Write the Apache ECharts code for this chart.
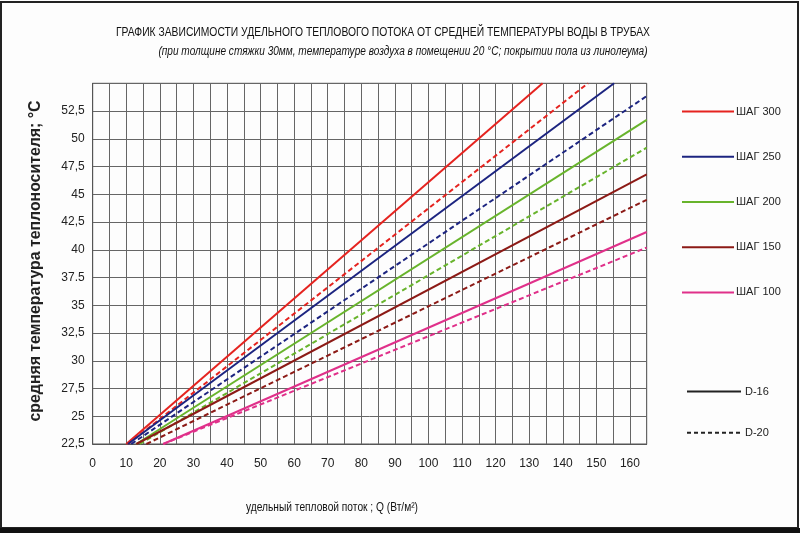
<!DOCTYPE html>
<html>
<head>
<meta charset="utf-8">
<script src="https://cdn.jsdelivr.net/npm/echarts@6/dist/echarts.min.js"></script>
<style>
html,body{margin:0;padding:0;background:#fff;}
#chart{width:800px;height:533px;}
</style>
</head>
<body>
<div id="chart"></div>
<script>
// ---- data ----
const titleText = 'ГРАФИК ЗАВИСИМОСТИ УДЕЛЬНОГО ТЕПЛОВОГО ПОТОКА ОТ СРЕДНЕЙ ТЕМПЕРАТУРЫ ВОДЫ В ТРУБАХ';
const subtitleText = '(при толщине стяжки 30мм, температуре воздуха в помещении 20 °С; покрытии пола из линолеума)';
const xAxisName = 'удельный тепловой поток ; Q (Вт/м²)';
const yAxisName = 'средняя температура теплоносителя; °С';

const xTickLabels = [0,10,20,30,40,50,60,70,80,90,100,110,120,130,140,150,160];
const yTickLabels = {22.5:'22,5',25:'25',27.5:'27,5',30:'30',32.5:'32,5',35:'35',37.5:'37.5',40:'40',42.5:'42,5',45:'45',47.5:'47,5',50:'50',52.5:'52,5'};

const stepNames = ['ШАГ 300','ШАГ 250','ШАГ 200','ШАГ 150','ШАГ 100'];
const pipeNames = ['D-16','D-20'];

// [Q, temperature] end points of each straight line
const step300_d16 = [[10,22.5],[134,55]];
const step300_d20 = [[10.5,22.5],[147.5,55]];
const step250_d16 = [[10.5,22.5],[155.3,55]];
const step250_d20 = [[11.5,22.5],[165,53.85]];
const step200_d16 = [[13,22.5],[165,51.7]];
const step200_d20 = [[14,22.5],[165,49.2]];
const step150_d16 = [[13,22.5],[165,46.8]];
const step150_d20 = [[16,22.5],[165,44.5]];
const step100_d16 = [[21,22.5],[165,41.6]];
const step100_d20 = [[21,22.5],[165,40.2]];

const d16Data = [step300_d16, step250_d16, step200_d16, step150_d16, step100_d16];
const d20Data = [step300_d20, step250_d20, step200_d20, step150_d20, step100_d20];

// ---- styles ----
const colors = ['#e5231f','#1c2480','#68b42c','#8c1a16','#e0308a'];
const FONT = '"Liberation Sans Narrow", "Liberation Sans", sans-serif';
const DASH = [5,3];

const series = [];
stepNames.forEach((name, i) => {
  series.push({
    name: name, type: 'line', data: d16Data[i], symbol: 'none', silent: true,
    lineStyle: {color: colors[i], width: 2, type: 'solid'}, itemStyle: {color: colors[i]},
    clip: true, z: 5
  });
  series.push({
    name: name + ' ', type: 'line', data: d20Data[i], symbol: 'none', silent: true,
    lineStyle: {color: colors[i], width: 2, type: DASH}, itemStyle: {color: colors[i]},
    clip: true, z: 5
  });
});
series.push({name: pipeNames[0], type: 'line', data: [], symbol: 'none',
  lineStyle: {color: '#222', width: 2.5, type: 'solid'}, itemStyle: {color: '#222'}});
series.push({name: pipeNames[1], type: 'line', data: [], symbol: 'none',
  lineStyle: {color: '#222', width: 2.5, type: [4,3]}, itemStyle: {color: '#222'}});

const chart = echarts.init(document.getElementById('chart'), null, {renderer: 'canvas'});
chart.setOption({
  backgroundColor: '#fdfdfd',
  animation: false,
  textStyle: {fontFamily: FONT},
  grid: {left: 92.7, right: 153.3, top: 83.3, bottom: 89, show: true, borderColor: '#555', borderWidth: 1},
  xAxis: {
    type: 'value', min: 0, max: 165, interval: 5,
    axisLine: {show: true, lineStyle: {color: '#555', width: 1}},
    axisTick: {show: false},
    splitLine: {show: true, lineStyle: {color: '#666', width: 1}},
    axisLabel: {
      margin: 14, fontSize: 12, color: '#222', fontFamily: FONT,
      formatter: v => xTickLabels.indexOf(v) >= 0 ? String(v) : ''
    }
  },
  yAxis: {
    type: 'value', min: 22.5, max: 55, interval: 2.5,
    axisLine: {show: true, lineStyle: {color: '#555', width: 1}},
    axisTick: {show: false},
    splitLine: {show: true, lineStyle: {color: '#666', width: 1}},
    axisLabel: {
      margin: 8, fontSize: 12, color: '#222', fontFamily: FONT,
      formatter: v => yTickLabels[v] !== undefined ? yTickLabels[v] : ''
    }
  },
  legend: [
    {
      data: stepNames, orient: 'vertical', left: 681, top: 106, padding: 0,
      itemWidth: 52, itemHeight: 14, itemGap: 34,
      itemStyle: {opacity: 0},
      textStyle: {fontSize: 11, color: '#222', fontFamily: FONT, padding: [0,0,0,-3]},
      selectedMode: false
    },
    {
      data: pipeNames, orient: 'vertical', left: 686, top: 386, padding: 0,
      itemWidth: 54, itemHeight: 14, itemGap: 30,
      itemStyle: {opacity: 0},
      textStyle: {fontSize: 11, color: '#222', fontFamily: FONT, padding: [6,0,0,-1]},
      selectedMode: false
    }
  ],
  series: series,
  graphic: [
    {type: 'text', x: 383, y: 27, scaleX: 0.86, style: {text: titleText, font: '12px ' + FONT, fill: '#111', align: 'center'}},
    {type: 'text', x: 403, y: 46, scaleX: 0.84, style: {text: subtitleText, font: 'italic 12px ' + FONT, fill: '#111', align: 'center'}},
    {type: 'text', x: 332, y: 502, scaleX: 0.85, style: {text: xAxisName, font: '12px ' + FONT, fill: '#111', align: 'center'}},
    {type: 'text', x: 36, y: 261, rotation: Math.PI / 2, scaleX: 0.99,
      style: {text: yAxisName, font: 'bold 16px ' + FONT, fill: '#222', align: 'center', verticalAlign: 'middle'}},
    {type: 'rect', shape: {x: 1, y: 2, width: 797, height: 526}, style: {fill: 'none', stroke: '#222', lineWidth: 2}, silent: true},
    {type: 'rect', shape: {x: 0, y: 528, width: 800, height: 5}, style: {fill: '#111'}, silent: true}
  ]
});
</script>
</body>
</html>
